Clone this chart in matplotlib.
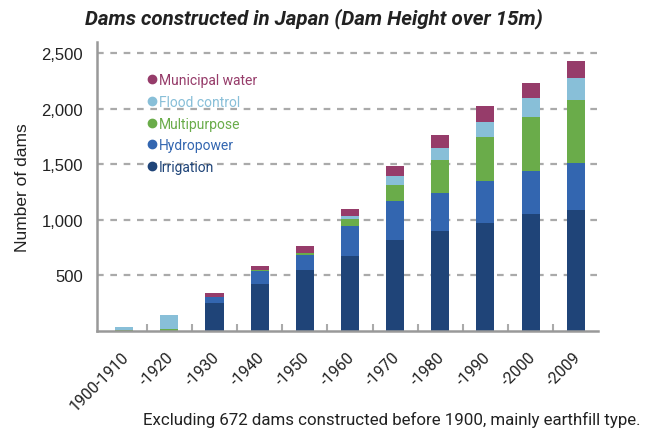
import numpy as np
import matplotlib
matplotlib.use("Agg")
import matplotlib.pyplot as plt
from matplotlib.lines import Line2D
from matplotlib.transforms import ScaledTranslation

periods = ["1900-1910", "-1920", "-1930", "-1940", "-1950", "-1960",
           "-1970", "-1980", "-1990", "-2000", "-2009"]
irrigation = [0, 0, 250, 420, 548, 670, 815, 895, 967, 1048, 1084]
hydropower = [0, 0, 55, 120, 134, 270, 350, 350, 385, 394, 431]
multipurpose = [8, 18, 0, 10, 18, 65, 152, 297, 395, 485, 567]
flood_control = [25, 123, 0, 0, 0, 25, 73, 107, 135, 170, 198]
municipal = [0, 0, 35, 35, 60, 70, 90, 117, 143, 135, 153]

series = [
    ("Irrigation", irrigation, "#1f4478"),
    ("Hydropower", hydropower, "#3366b0"),
    ("Multipurpose", multipurpose, "#6aac4a"),
    ("Flood control", flood_control, "#88bfd8"),
    ("Municipal water", municipal, "#963c6a"),
]

plt.rcParams['font.family'] = ['Roboto', 'DejaVu Sans']

fig = plt.figure(figsize=(6.56, 4.35), dpi=100)
ax = fig.add_axes([0.148, 0.237, 0.764, 0.664])

x = np.arange(len(periods))
bottom = np.zeros(len(periods))
for name, vals, col in series:
    ax.bar(x, vals, width=0.4, bottom=bottom, color=col, zorder=2)
    bottom += np.array(vals)

ax.set_xlim(-0.6, 10.5)
ax.set_ylim(0, 2600)
ax.set_yticks([500, 1000, 1500, 2000, 2500])
ax.set_yticklabels(["500", "1,000", "1,500", "2,000", "2,500"],
                   family="Liberation Sans", fontsize=12, color="#222222")
ax.tick_params(axis="y", length=0, pad=10)
ax.yaxis.grid(True, color="#aaaaaa", lw=1.6, ls=(0, (3, 3)), zorder=0)

ax.set_xticks(x)
ax.set_xticklabels(periods, rotation=45, ha="right", rotation_mode="anchor",
                   fontsize=11.5, color="#222222")
ax.tick_params(axis="x", length=0, pad=13)
for lab in ax.get_xticklabels():
    lab.set_transform(lab.get_transform() + ScaledTranslation(-0.03, 0, fig.dpi_scale_trans))
ax.set_xticks(x[:-1] + 0.5, minor=True)
ax.tick_params(axis="x", which="minor", direction="in", length=5,
               color="#aaaaaa", width=1.5)

for s in ["top", "right"]:
    ax.spines[s].set_visible(False)
for s in ["left", "bottom"]:
    ax.spines[s].set_color("#999999")
    ax.spines[s].set_linewidth(1.8)

ax.set_ylabel("Number of dams", family="Liberation Sans", fontsize=12.5,
              color="#222222", labelpad=8)

handles = [Line2D([], [], marker="o", ls="", color=col, markersize=6)
           for name, vals, col in series[::-1]]
labels = [name for name, vals, col in series[::-1]]
leg = ax.legend(handles, labels, loc="upper left", bbox_to_anchor=(0.07, 0.935),
                frameon=False, fontsize=10, handletextpad=0.0,
                labelspacing=0.55, handlelength=1.0,
                labelcolor=[c for _, _, c in series[::-1]])

fig.text(0.478, 0.956, "Dams constructed in Japan (Dam Height over 15m)",
         ha="center", va="center", fontsize=14.8, fontweight="bold",
         fontstyle="italic", color="#222222")
fig.text(0.976, 0.035, "Excluding 672 dams constructed before 1900, mainly earthfill type.",
         ha="right", va="center", fontsize=12.2, color="#222222")

fig.savefig("out.png", dpi=100)
